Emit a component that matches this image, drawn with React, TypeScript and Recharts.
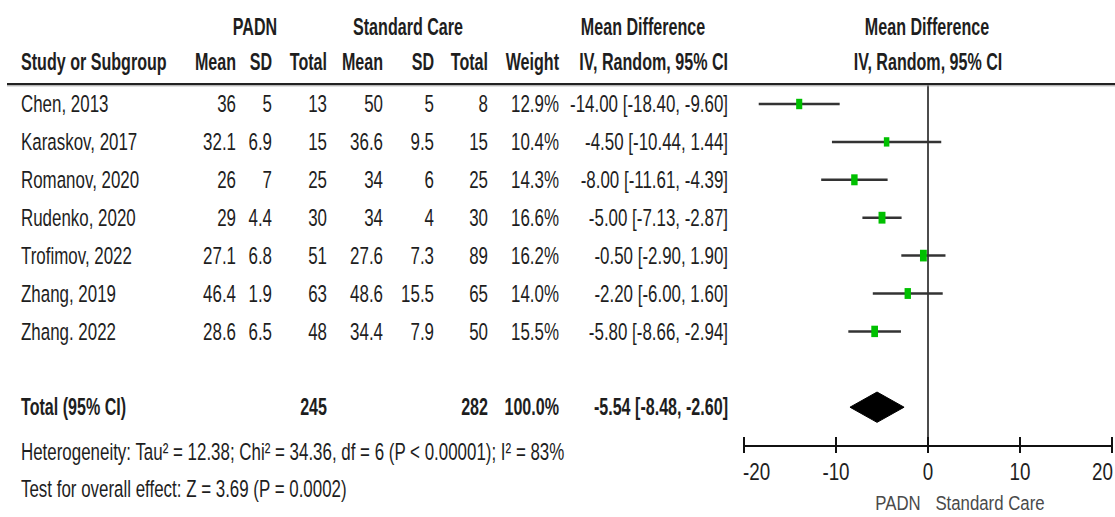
import React from "react";
import { ComposedChart, XAxis, YAxis, ReferenceLine, Scatter, Area } from "recharts";

const studies = ["Chen, 2013", "Karaskov, 2017", "Romanov, 2020", "Rudenko, 2020", "Trofimov, 2022", "Zhang, 2019", "Zhang. 2022"];
const padnMean = ["36", "32.1", "26", "29", "27.1", "46.4", "28.6"];
const padnSD = ["5", "6.9", "7", "4.4", "6.8", "1.9", "6.5"];
const padnTotal = [13, 15, 25, 30, 51, 63, 48];
const scMean = ["50", "36.6", "34", "34", "27.6", "48.6", "34.4"];
const scSD = ["5", "9.5", "6", "4", "7.3", "15.5", "7.9"];
const scTotal = [8, 15, 25, 30, 89, 65, 50];
const weights = [12.9, 10.4, 14.3, 16.6, 16.2, 14.0, 15.5];
const meanDiff = [-14.0, -4.5, -8.0, -5.0, -0.5, -2.2, -5.8];
const ciLow = [-18.4, -10.44, -11.61, -7.13, -2.9, -6.0, -8.66];
const ciHigh = [-9.6, 1.44, -4.39, -2.87, 1.9, 1.6, -2.94];

const totalPadn = 245;
const totalSc = 282;
const totalWeight = 100.0;
const totalMD = -5.54;
const totalLow = -8.48;
const totalHigh = -2.6;
const totalRow = 8;

const xTicks = [-20, -10, 0, 10, 20];
const heterogeneity = "Heterogeneity: Tau\u00b2 = 12.38; Chi\u00b2 = 34.36, df = 6 (P < 0.00001); I\u00b2 = 83%";
const overall = "Test for overall effect: Z = 3.69 (P = 0.0002)";
const favoursLeft = "PADN";
const favoursRight = "Standard Care";

// layout
const W = 1115;
const H = 517;
const TOP = 83;
const AXIS_Y = 446;
const ROW0 = 104;
const ROW_STEP = 37.9;
const Y_MIN = (TOP - ROW0) / ROW_STEP;
const Y_MAX = (AXIS_Y - ROW0) / ROW_STEP;

const FONT = "'Liberation Sans', Arial, sans-serif";
const FS = 23.5;
const SX_REG = 0.72;
const SX_BOLD = 0.685;
const SX_AXIS = 0.8;
const INK = "#1e1e1e";

const rowY = (i: number) => ROW0 + ROW_STEP * i;

function T({ x, y, anchor = "start", bold = false, color = INK, sx, fs, children }: any) {
  const s = sx ?? (bold ? SX_BOLD : SX_REG);
  const size = fs ?? FS;
  return (
    <text
      transform={`translate(${x},${y + 0.36 * size}) scale(${s},1)`}
      textAnchor={anchor}
      fontFamily={FONT}
      fontSize={size}
      fontWeight={bold ? 700 : 400}
      fill={color}
    >
      {children}
    </text>
  );
}

const fmt2 = (v: number) => v.toFixed(2);
const ciText = (m: number, lo: number, hi: number) => `${fmt2(m)} [${fmt2(lo)}, ${fmt2(hi)}]`;

const pointData = studies.map((s, i) => ({ x: meanDiff[i], y: i, w: weights[i] }));
const diamondData = [
  { x: totalLow, band: [totalRow, totalRow] },
  { x: totalMD, band: [totalRow - 0.4, totalRow + 0.4] },
  { x: totalHigh, band: [totalRow, totalRow] },
];

const Square = (props: any) => {
  const { cx, cy, payload } = props;
  const r = Math.sqrt(payload.w);
  const w = 1.7 * r;
  const h = 2.9 * r;
  return <rect x={cx - w / 2} y={cy - h / 2} width={w} height={h} fill="#00c000" />;
};

const Tick = (props: any) => {
  const { x, y, payload, index } = props;
  const last = xTicks.length - 1;
  const anchor = index === 0 ? "start" : index === last ? "end" : "middle";
  const tx = index === 0 ? x - 1 : index === last ? x + 1 : x;
  return (
    <g>
      <line x1={x} x2={x} y1={y - 9} y2={y + 7} stroke="#111" strokeWidth={2} />
      <T x={tx} y={y + 25.5} anchor={anchor} sx={SX_AXIS}>{String(payload.value)}</T>
    </g>
  );
};

const cols = { mean1: 236, sd1: 272, tot1: 327, mean2: 383, sd2: 434, tot2: 488, weight: 559, ci: 728 };

export default function App() {
  return (
    <div style={{ position: "absolute", left: 0, top: 0, width: W, height: H, background: "#fff" }}>
      <ComposedChart
        width={W}
        height={H}
        data={diamondData}
        margin={{ top: TOP, right: 3, bottom: 31, left: 744 }}
      >
        <XAxis
          type="number"
          dataKey="x"
          domain={[-20, 20]}
          ticks={xTicks}
          interval={0}
          allowDataOverflow
          height={40}
          axisLine={{ stroke: "#111", strokeWidth: 2 }}
          tickLine={false}
          tickSize={0}
          tickMargin={0}
          tick={<Tick />}
        />
        <YAxis type="number" dataKey="y" domain={[Y_MIN, Y_MAX]} reversed hide allowDataOverflow />
        <ReferenceLine x={0} stroke="#111" strokeWidth={1.5} />
        {studies.map((s, i) => (
          <ReferenceLine
            key={s}
            segment={[{ x: ciLow[i], y: i }, { x: ciHigh[i], y: i }]}
            stroke="#333"
            strokeWidth={2.5}
          />
        ))}
        <Area
          dataKey="band"
          type="linear"
          fill="#000"
          fillOpacity={1}
          stroke="#000"
          strokeWidth={1}
          isAnimationActive={false}
          dot={false}
          activeDot={false}
        />
        <Scatter data={pointData} shape={<Square />} isAnimationActive={false} />
      </ComposedChart>
      <svg width={W} height={H} style={{ position: "absolute", left: 0, top: 0, pointerEvents: "none" }}>
        <line x1={7} x2={W} y1={84} y2={84} stroke="#222" strokeWidth={2} />
        <line x1={7} x2={W} y1={85.8} y2={85.8} stroke="#999" strokeWidth={1} />

        <T x={255} y={27} anchor="middle" bold>PADN</T>
        <T x={408} y={27} anchor="middle" bold>Standard Care</T>
        <T x={643} y={27} anchor="middle" bold>Mean Difference</T>
        <T x={927} y={27} anchor="middle" bold>Mean Difference</T>

        <T x={21} y={62} bold>Study or Subgroup</T>
        <T x={cols.mean1} y={62} anchor="end" bold>Mean</T>
        <T x={cols.sd1} y={62} anchor="end" bold>SD</T>
        <T x={cols.tot1} y={62} anchor="end" bold>Total</T>
        <T x={cols.mean2} y={62} anchor="end" bold>Mean</T>
        <T x={cols.sd2} y={62} anchor="end" bold>SD</T>
        <T x={cols.tot2} y={62} anchor="end" bold>Total</T>
        <T x={cols.weight} y={62} anchor="end" bold>Weight</T>
        <T x={cols.ci} y={62} anchor="end" bold>IV, Random, 95% CI</T>
        <T x={928} y={62} anchor="middle" bold>IV, Random, 95% CI</T>

        {studies.map((s, i) => {
          const y = rowY(i);
          return (
            <g key={s}>
              <T x={21} y={y}>{s}</T>
              <T x={cols.mean1} y={y} anchor="end">{padnMean[i]}</T>
              <T x={cols.sd1} y={y} anchor="end">{padnSD[i]}</T>
              <T x={cols.tot1} y={y} anchor="end">{String(padnTotal[i])}</T>
              <T x={cols.mean2} y={y} anchor="end">{scMean[i]}</T>
              <T x={cols.sd2} y={y} anchor="end">{scSD[i]}</T>
              <T x={cols.tot2} y={y} anchor="end">{String(scTotal[i])}</T>
              <T x={cols.weight} y={y} anchor="end">{weights[i].toFixed(1) + "%"}</T>
              <T x={cols.ci} y={y} anchor="end">{ciText(meanDiff[i], ciLow[i], ciHigh[i])}</T>
            </g>
          );
        })}

        <T x={21} y={407} bold>Total (95% CI)</T>
        <T x={cols.tot1} y={407} anchor="end" bold>{String(totalPadn)}</T>
        <T x={cols.tot2} y={407} anchor="end" bold>{String(totalSc)}</T>
        <T x={cols.weight} y={407} anchor="end" bold>{totalWeight.toFixed(1) + "%"}</T>
        <T x={cols.ci} y={407} anchor="end" bold>{ciText(totalMD, totalLow, totalHigh)}</T>

        <T x={21} y={451.5}>{heterogeneity}</T>
        <T x={21} y={488.5}>{overall}</T>

        <T x={898} y={502} anchor="middle" color="#4a4a4a" sx={SX_AXIS} fs={21}>{favoursLeft}</T>
        <T x={990} y={502} anchor="middle" color="#4a4a4a" sx={SX_AXIS} fs={21}>{favoursRight}</T>
      </svg>
    </div>
  );
}
